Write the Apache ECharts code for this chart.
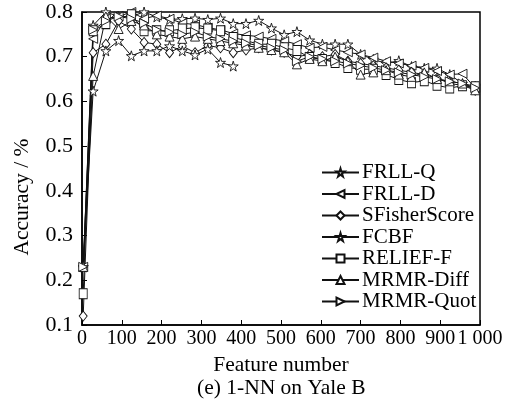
<!DOCTYPE html>
<html>
<head>
<meta charset="utf-8">
<script src="https://cdn.jsdelivr.net/npm/echarts@6/dist/echarts.min.js"></script>
<style>
  html, body { margin: 0; padding: 0; background: #fff; }
  #chart { width: 507px; height: 407px; }
</style>
</head>
<body>
<div id="chart"></div>
<script>
// feature numbers on the x axis
const featureNums = [3, 28, 60, 92, 124, 156, 188, 220, 252, 284, 316, 348, 380, 412, 444, 476,
  508, 540, 572, 604, 636, 668, 700, 732, 764, 796, 828, 860, 892, 924, 956, 988]

const frllQ = [0.23, 0.77, 0.80, 0.79, 0.79, 0.80, 0.789, 0.783, 0.785, 0.786, 0.783, 0.786, 0.774, 0.774, 0.781, 0.764,
  0.749, 0.756, 0.737, 0.728, 0.728, 0.728, 0.705, 0.694, 0.685, 0.691, 0.678, 0.674, 0.674, 0.66, 0.64, 0.634]
const frllD = [0.23, 0.74, 0.785, 0.79, 0.80, 0.785, 0.792, 0.785, 0.775, 0.772, 0.765, 0.76, 0.752, 0.748, 0.745, 0.74,
  0.735, 0.728, 0.72, 0.722, 0.715, 0.71, 0.705, 0.698, 0.69, 0.685, 0.68, 0.675, 0.668, 0.66, 0.662, 0.63]
const sFisher = [0.12, 0.709, 0.728, 0.78, 0.762, 0.732, 0.728, 0.709, 0.724, 0.709, 0.725, 0.72, 0.709, 0.715, 0.72, 0.715,
  0.71, 0.70, 0.705, 0.70, 0.705, 0.69, 0.685, 0.68, 0.675, 0.67, 0.665, 0.66, 0.652, 0.64, 0.636, 0.625]
const fcbf = [0.23, 0.623, 0.713, 0.736, 0.702, 0.713, 0.713, 0.724, 0.713, 0.704, 0.717, 0.687, 0.679]
const reliefF = [0.17, 0.758, 0.774, 0.804, 0.794, 0.758, 0.758, 0.758, 0.762, 0.765, 0.762, 0.758, 0.743, 0.736, 0.728, 0.728,
  0.72, 0.714, 0.698, 0.694, 0.687, 0.676, 0.672, 0.672, 0.66, 0.649, 0.642, 0.646, 0.636, 0.63, 0.635, 0.633]
const mrmrDiff = [0.23, 0.657, 0.79, 0.762, 0.78, 0.77, 0.75, 0.745, 0.74, 0.745, 0.74, 0.735, 0.73, 0.725, 0.72, 0.715,
  0.71, 0.683, 0.695, 0.69, 0.70, 0.69, 0.66, 0.665, 0.67, 0.66, 0.655, 0.665, 0.65, 0.645, 0.64, 0.625]
const mrmrQuot = [0.23, 0.76, 0.78, 0.79, 0.785, 0.775, 0.76, 0.755, 0.75, 0.755, 0.745, 0.74, 0.735, 0.73, 0.725, 0.72,
  0.715, 0.69, 0.70, 0.695, 0.69, 0.685, 0.68, 0.675, 0.67, 0.665, 0.66, 0.655, 0.65, 0.645, 0.64, 0.63]

const seriesNames = ['FRLL-Q', 'FRLL-D', 'SFisherScore', 'FCBF', 'RELIEF-F', 'MRMR-Diff', 'MRMR-Quot']
const seriesValues = [frllQ, frllD, sFisher, fcbf, reliefF, mrmrDiff, mrmrQuot]

const star = 'path://M50,0 L61,35 L98,35 L68,57 L79,91 L50,70 L21,91 L32,57 L2,35 L39,35 Z'
const leftTri = 'path://M0,50 L100,0 L100,100 Z'
const rightTri = 'path://M100,50 L0,0 L0,100 Z'
const symbols = [star, leftTri, 'diamond', star, 'rect', 'triangle', rightTri]
const symbolSizes = [10, 9, [8, 10], 10, [8, 10], 9, 9]

const font = 'Liberation Serif'

const chart = echarts.init(document.getElementById('chart'))

const series = seriesNames.map((name, i) => ({
  name: name,
  type: 'line',
  data: seriesValues[i].map((v, j) => [featureNums[j], v]),
  symbol: symbols[i],
  symbolSize: symbolSizes[i],
  showAllSymbol: true,
  lineStyle: { color: '#111', width: 1 },
  itemStyle: { color: '#fff', borderColor: '#111', borderWidth: 0.9 },
  animation: false
}))

chart.setOption({
  animation: false,
  title: {
    text: '(e) 1-NN on Yale B',
    left: 197,
    top: 377,
    padding: 0,
    textStyle: { fontFamily: font, fontSize: 21.5, fontWeight: 'normal', color: '#000' }
  },
  // y axis name, placed by hand (it sits below the middle of the axis)
  graphic: [{
    type: 'text',
    x: 22,
    y: 197,
    rotation: Math.PI / 2,
    style: {
      text: 'Accuracy / %',
      fill: '#000',
      font: '21.5px "Liberation Serif"',
      align: 'center',
      verticalAlign: 'middle'
    }
  }],
  legend: {
    orient: 'vertical',
    left: 321,
    top: 162,
    itemWidth: 37,
    itemHeight: 10,
    itemGap: 0.5,
    padding: 0,
    textStyle: { fontFamily: font, fontSize: 21, color: '#000', padding: [0, 0, 0, -2] },
    data: seriesNames
  },
  grid: {
    left: 82,
    right: 27,
    top: 12,
    bottom: 82,
    show: true,
    borderColor: '#000',
    borderWidth: 1.5,
    containLabel: false
  },
  xAxis: {
    type: 'value',
    min: 0,
    max: 1000,
    interval: 100,
    name: 'Feature number',
    nameLocation: 'middle',
    nameGap: 28,
    nameTextStyle: { fontFamily: font, fontSize: 21.5, color: '#000' },
    axisLine: { lineStyle: { color: '#000', width: 1.5 } },
    axisTick: { inside: true, length: 5, lineStyle: { color: '#000' } },
    axisLabel: {
      fontFamily: font, fontSize: 20, color: '#000', margin: 4,
      formatter: v => v === 1000 ? '1 000' : String(v)
    },
    splitLine: { show: false }
  },
  yAxis: {
    type: 'value',
    min: 0.1,
    max: 0.8,
    interval: 0.1,
    axisLine: { lineStyle: { color: '#000', width: 1.5 } },
    axisTick: { inside: true, length: 5, lineStyle: { color: '#000' } },
    axisLabel: {
      fontFamily: font, fontSize: 22, color: '#000', margin: 9,
      formatter: v => v.toFixed(1)
    },
    splitLine: { show: false }
  },
  series: series
})
</script>
</body>
</html>
